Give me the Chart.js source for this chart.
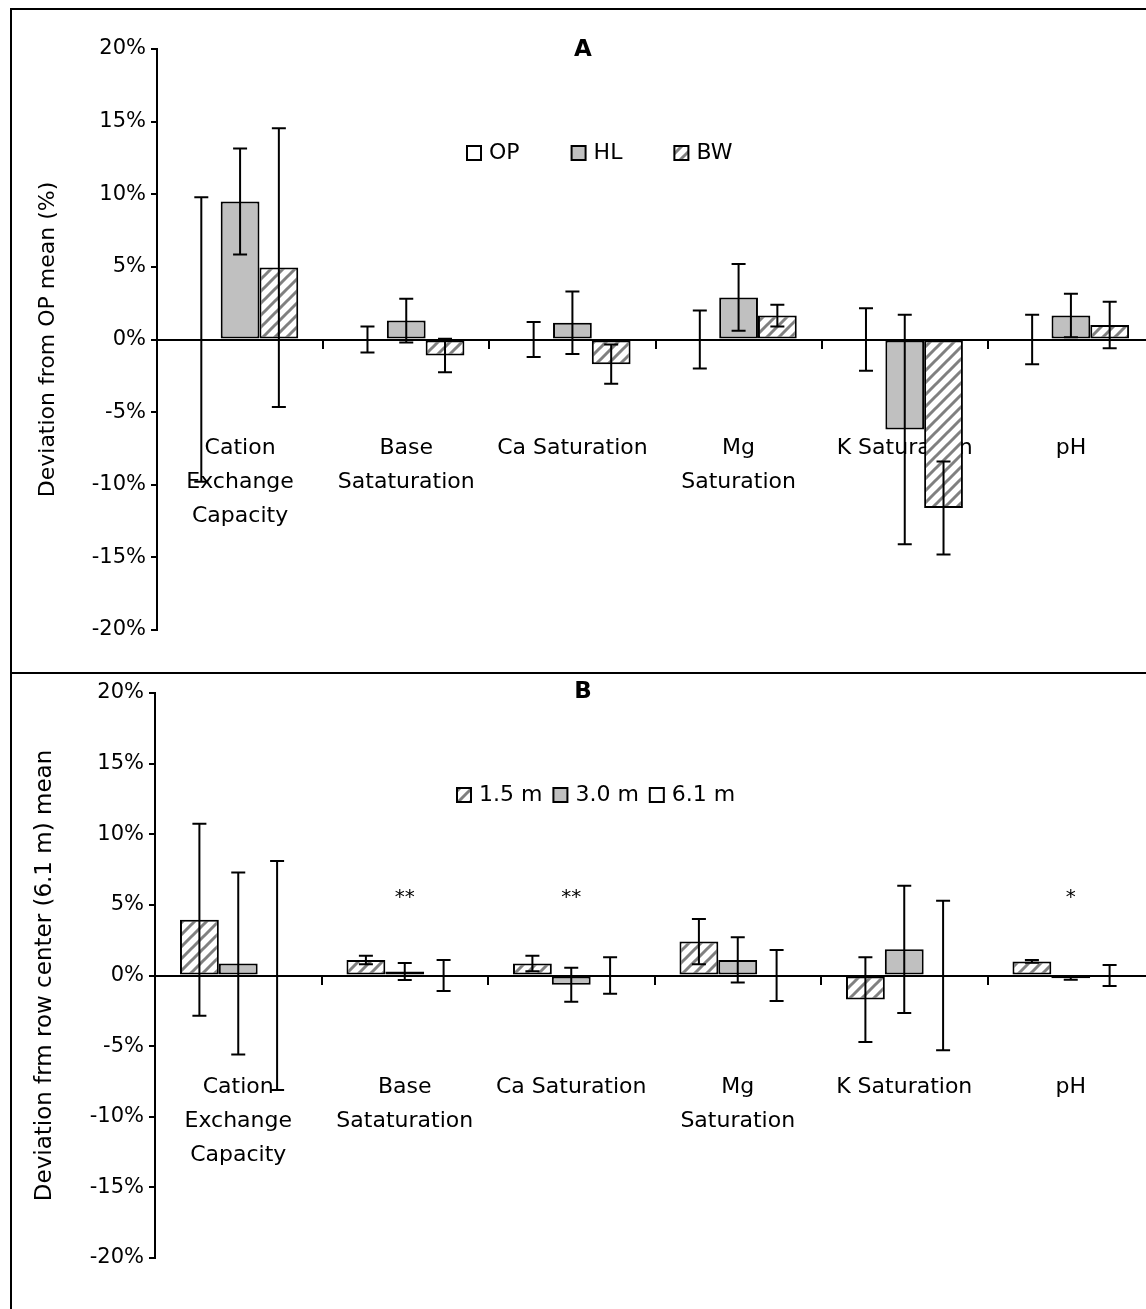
<!DOCTYPE html>
<html>
<head>
<meta charset="utf-8">
<title>Soil deviation charts</title>
<script src="https://cdn.jsdelivr.net/npm/chart.js@4.4.1/dist/chart.umd.min.js"></script>
<style>
  html, body { margin: 0; padding: 0; background: #fff; }
  #page { position: relative; width: 1146px; height: 1309px; overflow: hidden; }
  .frame { position: absolute; box-sizing: border-box; border: 2px solid #000; }
  #frameA { left: 10px; top: 8px; width: 1160px; height: 666px; }
  #frameB { left: 10px; top: 672px; width: 1160px; height: 700px; }
  canvas { position: absolute; left: 0; }
  #chartA { top: 0; }
  #chartB { top: 672px; }
</style>
</head>
<body>
<div id="page">
  <div class="frame" id="frameA"></div>
  <div class="frame" id="frameB"></div>
  <canvas id="chartA" width="1160" height="672"></canvas>
  <canvas id="chartB" width="1160" height="637"></canvas>
</div>
<script>
// categories shared by both panels
const categories = [
    ['Cation', 'Exchange', 'Capacity'],
    ['Base', 'Sataturation'],
    'Ca Saturation',
    ['Mg', 'Saturation'],
    'K Saturation',
    'pH'
];

// Panel A - deviation from OP mean (%)
const opMean = [0, 0, 0, 0, 0, 0];
const opErr  = [9.8, 0.9, 1.2, 2.0, 2.15, 1.7];
const hlMean = [9.5, 1.3, 1.15, 2.9, -6.2, 1.65];
const hlErr  = [3.65, 1.5, 2.15, 2.3, 7.9, 1.5];
const bwMean = [4.95, -1.1, -1.7, 1.65, -11.6, 1.0];
const bwErr  = [9.6, 1.15, 1.35, 0.75, 3.2, 1.6];

// Panel B - deviation from row center (6.1 m) mean (%)
const m15Mean = [3.95, 1.1, 0.85, 2.4, -1.7, 1.0];
const m15Err  = [6.8, 0.3, 0.55, 1.6, 3.0, 0.1];
const m30Mean = [0.85, 0.28, -0.65, 1.1, 1.85, -0.2];
const m30Err  = [6.45, 0.6, 1.2, 1.6, 4.5, 0.1];
const m61Mean = [0, 0, 0, 0, 0, 0];
const m61Err  = [8.1, 1.1, 1.3, 1.8, 5.3, 0.75];
const rowSig  = ['', '**', '**', '', '', '*'];
const sigLevel = 5.5;

const FONT = '"DejaVu Sans", "Liberation Sans", Arial, sans-serif';

function hatch() {
    const c = document.createElement('canvas');
    c.width = 12; c.height = 12;
    const g = c.getContext('2d');
    g.fillStyle = '#fff';
    g.fillRect(0, 0, 12, 12);
    g.strokeStyle = '#808080';
    g.lineWidth = 3;
    g.beginPath();
    g.moveTo(-3, 15); g.lineTo(15, -3);
    g.moveTo(-9, 9); g.lineTo(9, -9);
    g.moveTo(3, 21); g.lineTo(21, 3);
    g.stroke();
    return g.createPattern(c, 'repeat');
}
const hatchFill = hatch();

const errorBars = {
    id: 'errorBars',
    afterDatasetsDraw(chart) {
        const ctx = chart.ctx;
        const y = chart.scales.y;
        ctx.save();
        ctx.strokeStyle = '#000';
        ctx.lineWidth = 2;
        chart.data.datasets.forEach((ds, i) => {
            chart.getDatasetMeta(i).data.forEach((bar, j) => {
                const top = y.getPixelForValue(ds.data[j] + ds.errors[j]);
                const bot = y.getPixelForValue(ds.data[j] - ds.errors[j]);
                ctx.beginPath();
                ctx.moveTo(bar.x, top); ctx.lineTo(bar.x, bot);
                ctx.moveTo(bar.x - 7, top); ctx.lineTo(bar.x + 7, top);
                ctx.moveTo(bar.x - 7, bot); ctx.lineTo(bar.x + 7, bot);
                ctx.stroke();
            });
        });
        ctx.restore();
    }
};

function bar(label, data, errors, fill) {
    return {
        label: label,
        data: data,
        errors: errors,
        backgroundColor: fill,
        borderColor: '#000',
        borderWidth: 2,
        borderSkipped: false,
        categoryPercentage: 0.7,
        barPercentage: 1.0
    };
}

function makeChart(id, datasets, yTitle, ex) {
    // letter, in-plot legend and significance marks
    const extras = {
        id: 'extras',
        afterDraw(chart) {
            const ctx = chart.ctx;
            ctx.save();
            ctx.fillStyle = '#000';
            ctx.textBaseline = 'middle';
            ctx.textAlign = 'center';
            ctx.font = 'bold 23px ' + FONT;
            ctx.fillText(ex.letter, 583, ex.letterY);

            ctx.font = '22px ' + FONT;
            ctx.textAlign = 'left';
            let x = ex.legendX;
            chart.data.datasets.forEach(ds => {
                ctx.fillStyle = ds.backgroundColor;
                ctx.fillRect(x, ex.legendY - 7, 14, 14);
                ctx.lineWidth = 2;
                ctx.strokeStyle = '#000';
                ctx.strokeRect(x, ex.legendY - 7, 14, 14);
                ctx.fillStyle = '#000';
                ctx.fillText(ds.label, x + 22, ex.legendY);
                x += 22 + ctx.measureText(ds.label).width + ex.legendGap;
            });

            if (ex.sig) {
                ctx.textAlign = 'center';
                ctx.font = '20px ' + FONT;
                const ys = chart.scales.y.getPixelForValue(sigLevel);
                ex.sig.forEach((s, j) => {
                    if (s) ctx.fillText(s, chart.scales.x.getPixelForValue(j), ys);
                });
            }
            ctx.restore();
        }
    };

    return new Chart(document.getElementById(id), {
        type: 'bar',
        data: { labels: categories, datasets: datasets },
        options: {
            responsive: false,
            animation: false,
            layout: { padding: ex.padding },
            plugins: {
                legend: { display: false },
                tooltip: { enabled: false }
            },
            scales: {
                x: {
                    position: { y: 0 },
                    z: 1,
                    afterFit: s => { s.paddingLeft = 0; s.paddingRight = 0; },
                    ticks: {
                        autoSkip: false,
                        maxRotation: 0,
                        minRotation: 0,
                        padding: ex.labelPad,
                        color: '#000',
                        font: { family: FONT, size: 22, lineHeight: 34 / 22 }
                    },
                    grid: { drawOnChartArea: false, offset: true, tickLength: 8, color: '#000', lineWidth: 2 },
                    border: { color: '#000', width: 2 }
                },
                y: {
                    min: -20,
                    max: 20,
                    afterFit: s => { s.width = ex.yWidth; },
                    ticks: {
                        stepSize: 5,
                        padding: 5,
                        color: '#000',
                        font: { family: FONT, size: 21 },
                        callback: v => v + '%'
                    },
                    grid: { drawOnChartArea: false, tickLength: 6, color: '#000', lineWidth: 2 },
                    border: { color: '#000', width: 2 },
                    title: {
                        display: true,
                        text: yTitle,
                        color: '#000',
                        font: { family: FONT, size: ex.titleSize }
                    }
                }
            }
        },
        plugins: [errorBars, extras]
    });
}

makeChart('chartA', [
    bar('OP', opMean, opErr, '#ffffff'),
    bar('HL', hlMean, hlErr, '#c0c0c0'),
    bar('BW', bwMean, bwErr, hatchFill)
], 'Deviation from OP mean (%)', {
    letter: 'A', letterY: 50,
    legendX: 467, legendY: 153, legendGap: 52,
    padding: { left: 31, top: 49, bottom: 42, right: 6 },
    yWidth: 126, labelPad: 84, titleSize: 22
});

makeChart('chartB', [
    bar('1.5 m', m15Mean, m15Err, hatchFill),
    bar('3.0 m', m30Mean, m30Err, '#c0c0c0'),
    bar('6.1 m', m61Mean, m61Err, '#ffffff')
], 'Deviation frm row center (6.1 m) mean', {
    letter: 'B', letterY: 20,
    legendX: 457, legendY: 123, legendGap: 11,
    sig: rowSig,
    padding: { left: 27, top: 21, bottom: 51, right: 6 },
    yWidth: 128, labelPad: 87, titleSize: 23
});
</script>
</body>
</html>
